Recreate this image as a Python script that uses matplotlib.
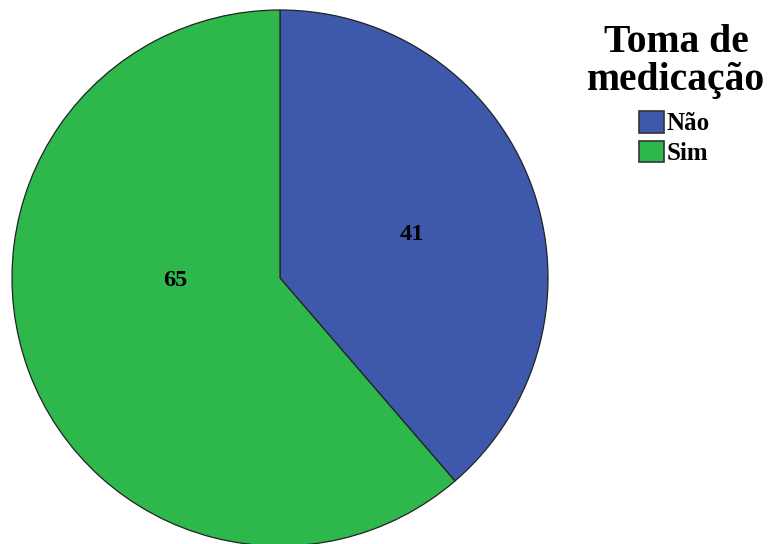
import numpy as np
import matplotlib
matplotlib.use("Agg")
import matplotlib.pyplot as plt

labels = ["Não", "Sim"]
counts = [41, 65]
colors = ["#3e58ab", "#2eb84b"]
legend_title = ["Toma de", "medicação"]

W, H = 769, 544
plt.rcParams["font.family"] = ["Liberation Serif", "DejaVu Serif"]
fig = plt.figure(figsize=(W / 100, H / 100), dpi=100)
ax = fig.add_axes([0, 0, 1, 1])

cx, cy, r = 280, H - 278, 268
wedges, _ = ax.pie(counts, colors=colors, startangle=90, counterclock=False,
                   center=(cx, cy), radius=r, frame=True,
                   wedgeprops=dict(edgecolor="#222222", linewidth=0.9))
ax.set_xlim(0, W); ax.set_ylim(0, H)
ax.set_aspect("equal"); ax.axis("off")

# value labels inside each slice
label_pos = [(412, H - 234), (175, H - 281)]
for (x, y), v in zip(label_pos, counts):
    ax.text(x, y, str(v), ha="center", va="center", fontsize=17.5, fontweight="bold")

# legend heading, one line per text
for i, line in enumerate(legend_title):
    ax.text(676, H - 52 - 38 * i, line, ha="center", va="baseline",
            fontsize=28.5, fontweight="bold")

leg = ax.legend(wedges, labels, loc="upper left",
                bbox_to_anchor=(639 / W, 1 - 111 / H), frameon=False,
                prop=dict(size=18, weight="bold"),
                handlelength=1.0, handleheight=0.95, handletextpad=0.1,
                labelspacing=0.22, borderpad=0, borderaxespad=0)
for h in leg.legend_handles:
    h.set_edgecolor("#333333")
    h.set_linewidth(1.2)

fig.savefig("out.png", dpi=100)
